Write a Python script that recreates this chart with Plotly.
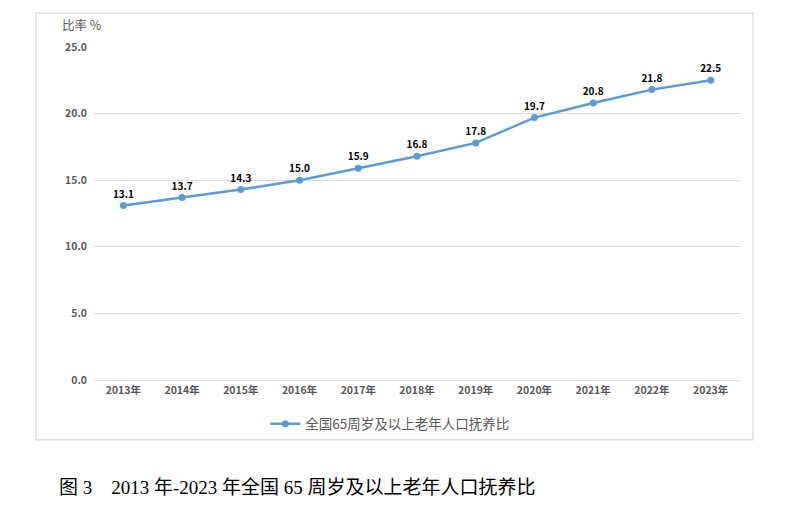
import plotly.graph_objects as go

years = ["2013年", "2014年", "2015年", "2016年", "2017年", "2018年",
         "2019年", "2020年", "2021年", "2022年", "2023年"]
ratio = [13.1, 13.7, 14.3, 15.0, 15.9, 16.8, 17.8, 19.7, 20.8, 21.8, 22.5]
y_ticks = [0, 5, 10, 15, 20, 25]
y_tick_text = ["0.0", "5.0", "10.0", "15.0", "20.0", "25.0"]
series_name = "全国65周岁及以上老年人口抚养比"
caption = "图 3\u2002\u20022013 年-2023 年全国 65 周岁及以上老年人口抚养比"

color = "#5B9BD5"
grey = "#595959"
font_sans = "Noto Sans CJK SC, Noto Sans, sans-serif"

fig = go.Figure()
fig.add_trace(go.Scatter(
    x=years, y=ratio, mode="lines+markers+text", name=series_name,
    line=dict(color=color, width=2.5),
    marker=dict(color=color, size=7),
    text=[f"{v:.1f}" for v in ratio], textposition="top center",
    textfont=dict(family=font_sans, size=10, color="#000000", weight="bold"),
    cliponaxis=False,
))

fig.update_layout(
    width=789, height=517,
    margin=dict(l=86, r=57, t=39, b=145),
    paper_bgcolor="white", plot_bgcolor="white",
    font=dict(family=font_sans, color=grey),
    showlegend=True,
    legend=dict(orientation="h", x=0.458, y=-0.132, xanchor="center", yanchor="middle",
                font=dict(size=13.5, color=grey)),
    xaxis=dict(type="category", range=[-0.5, 10.5], showgrid=False,
               showline=True, linecolor="#D9D9D9", ticks="",
               tickfont=dict(size=10.5, color=grey, weight="bold")),
    yaxis=dict(range=[0, 25], tickvals=y_ticks, ticktext=y_tick_text,
               showgrid=True, gridcolor="#D9D9D9", gridwidth=1, zeroline=False,
               showline=False, ticks="", ticklabelstandoff=6,
               tickfont=dict(size=10.5, color=grey, weight="bold")),
    shapes=[dict(type="rect", xref="paper", yref="paper",
                 x0=-0.0898, x1=1.0201, y0=-0.180, y1=1.102,
                 line=dict(color="#D9D9D9", width=1.2))],
    annotations=[
        dict(text="比率 %", xref="paper", yref="paper", x=-0.052, y=1.069,
             xanchor="left", yanchor="middle", showarrow=False,
             font=dict(size=12.5, color=grey)),
        dict(text=caption, xref="paper", yref="paper", x=-0.057, y=-0.324,
             xanchor="left", yanchor="middle", showarrow=False,
             font=dict(family="Liberation Serif, Noto Sans CJK SC, serif", size=19, color="#000000")),
    ],
)

fig.write_html("out.html")
